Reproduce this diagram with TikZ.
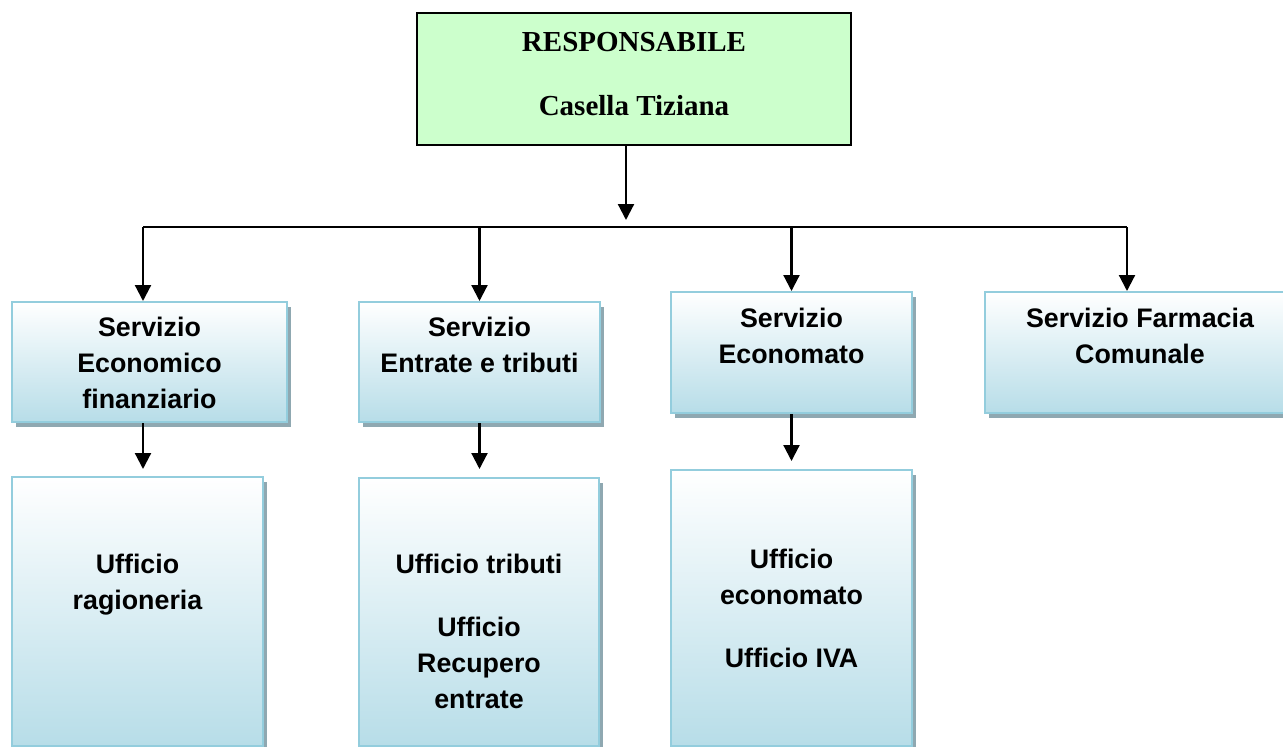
\documentclass[tikz,border=0pt]{standalone}
\usepackage{fontspec}
\setmainfont{Liberation Serif}
\setsansfont{Liberation Sans}
\usetikzlibrary{arrows.meta, positioning, shadows}

\definecolor{bossgreen}{HTML}{CCFFCC}
\definecolor{unitedge}{HTML}{93CDDD}
\definecolor{unitfill}{HTML}{B7DDE8}
\definecolor{unitshade}{HTML}{8FA8B1}

\tikzset{
  boss/.style={draw=black, line width=1.5pt, fill=bossgreen, inner sep=0pt},
  unit/.style={draw=unitedge, line width=2pt, top color=white, bottom color=unitfill,
    drop shadow={shadow xshift=4pt, shadow yshift=-5pt, fill=unitshade, opacity=1},
    inner sep=0pt},
  bosstext/.style={font=\bfseries\fontsize{29}{64}\selectfont, align=center, inner sep=0pt},
  unittext/.style={font=\sffamily\bfseries\fontsize{26.8}{36}\selectfont, align=center, inner sep=0pt},
  link/.style={line width=2.2pt},
  arr/.style={line width=2.2pt, -{Triangle[length=16pt,width=16pt]}},
}

\begin{document}
\begin{tikzpicture}[x=1pt, y=-1pt]
\clip (0,0) rectangle (1283,747);

% responsabile
\node[boss, minimum width=434pt, minimum height=132pt] (boss) at (634,79) {};
\node[bosstext, below=19.5pt] (bosstxt) at (boss.north) {RESPONSABILE\\Casella Tiziana};

% servizi
\node[unit, minimum width=275pt, minimum height=120pt] (econ) at (149.5,362) {};
\node[unittext, below=16pt] (econtxt) at (econ.north) {Servizio\\Economico\\finanziario};
\node[unit, minimum width=241pt, minimum height=120pt] (tributi) at (479.5,362) {};
\node[unittext, below=16pt] (tributitxt) at (tributi.north) {Servizio\\Entrate e tributi};
\node[unit, minimum width=241pt, minimum height=121pt] (econom) at (791.5,352.5) {};
\node[unittext, below=17pt] (economtxt) at (econom.north) {Servizio\\Economato};
\node[unit, minimum width=310pt, minimum height=121pt] (farma) at (1140,352.5) {};
\node[unittext, below=17pt] (farmatxt) at (farma.north) {Servizio Farmacia\\Comunale};

% uffici
\node[unit, minimum width=251pt, minimum height=269pt] (ragio) at (137.5,611.5) {};
\node[unittext, below=78pt] (ragiotxt) at (ragio.north) {Ufficio\\ragioneria};
\node[unit, minimum width=240pt, minimum height=268pt] (uftrib) at (479,612) {};
\node[unittext, below=77pt] (uftribtxt) at (uftrib.north) {Ufficio tributi\\[27pt]Ufficio\\Recupero\\entrate};
\node[unit, minimum width=241pt, minimum height=276pt] (ufecon) at (791.5,608) {};
\node[unittext, below=80pt] (ufecontxt) at (ufecon.north) {Ufficio\\economato\\[27pt]Ufficio IVA};

% collegamenti
\coordinate (hub) at (626,227);
\coordinate (busL) at (143,227);
\coordinate (busR) at (1127,227);
\draw[arr, shorten >=7pt] (boss.south -| hub) -- (hub);
\draw[link] (busL) -- (busR);
\draw[arr] (busL) -- (busL |- econ.north);
\draw[arr] (tributi.north |- busL) -- (tributi.north);
\draw[arr] (econom.north |- busL) -- (econom.north);
\draw[arr] (busR) -- (busR |- farma.north);
\draw[arr, shorten >=7pt] (busL |- econ.south) -- (busL |- ragio.north);
\draw[arr, shorten >=8pt] (tributi.south) -- (tributi.south |- uftrib.north);
\draw[arr, shorten >=8pt] (econom.south) -- (econom.south |- ufecon.north);
\end{tikzpicture}
\end{document}
